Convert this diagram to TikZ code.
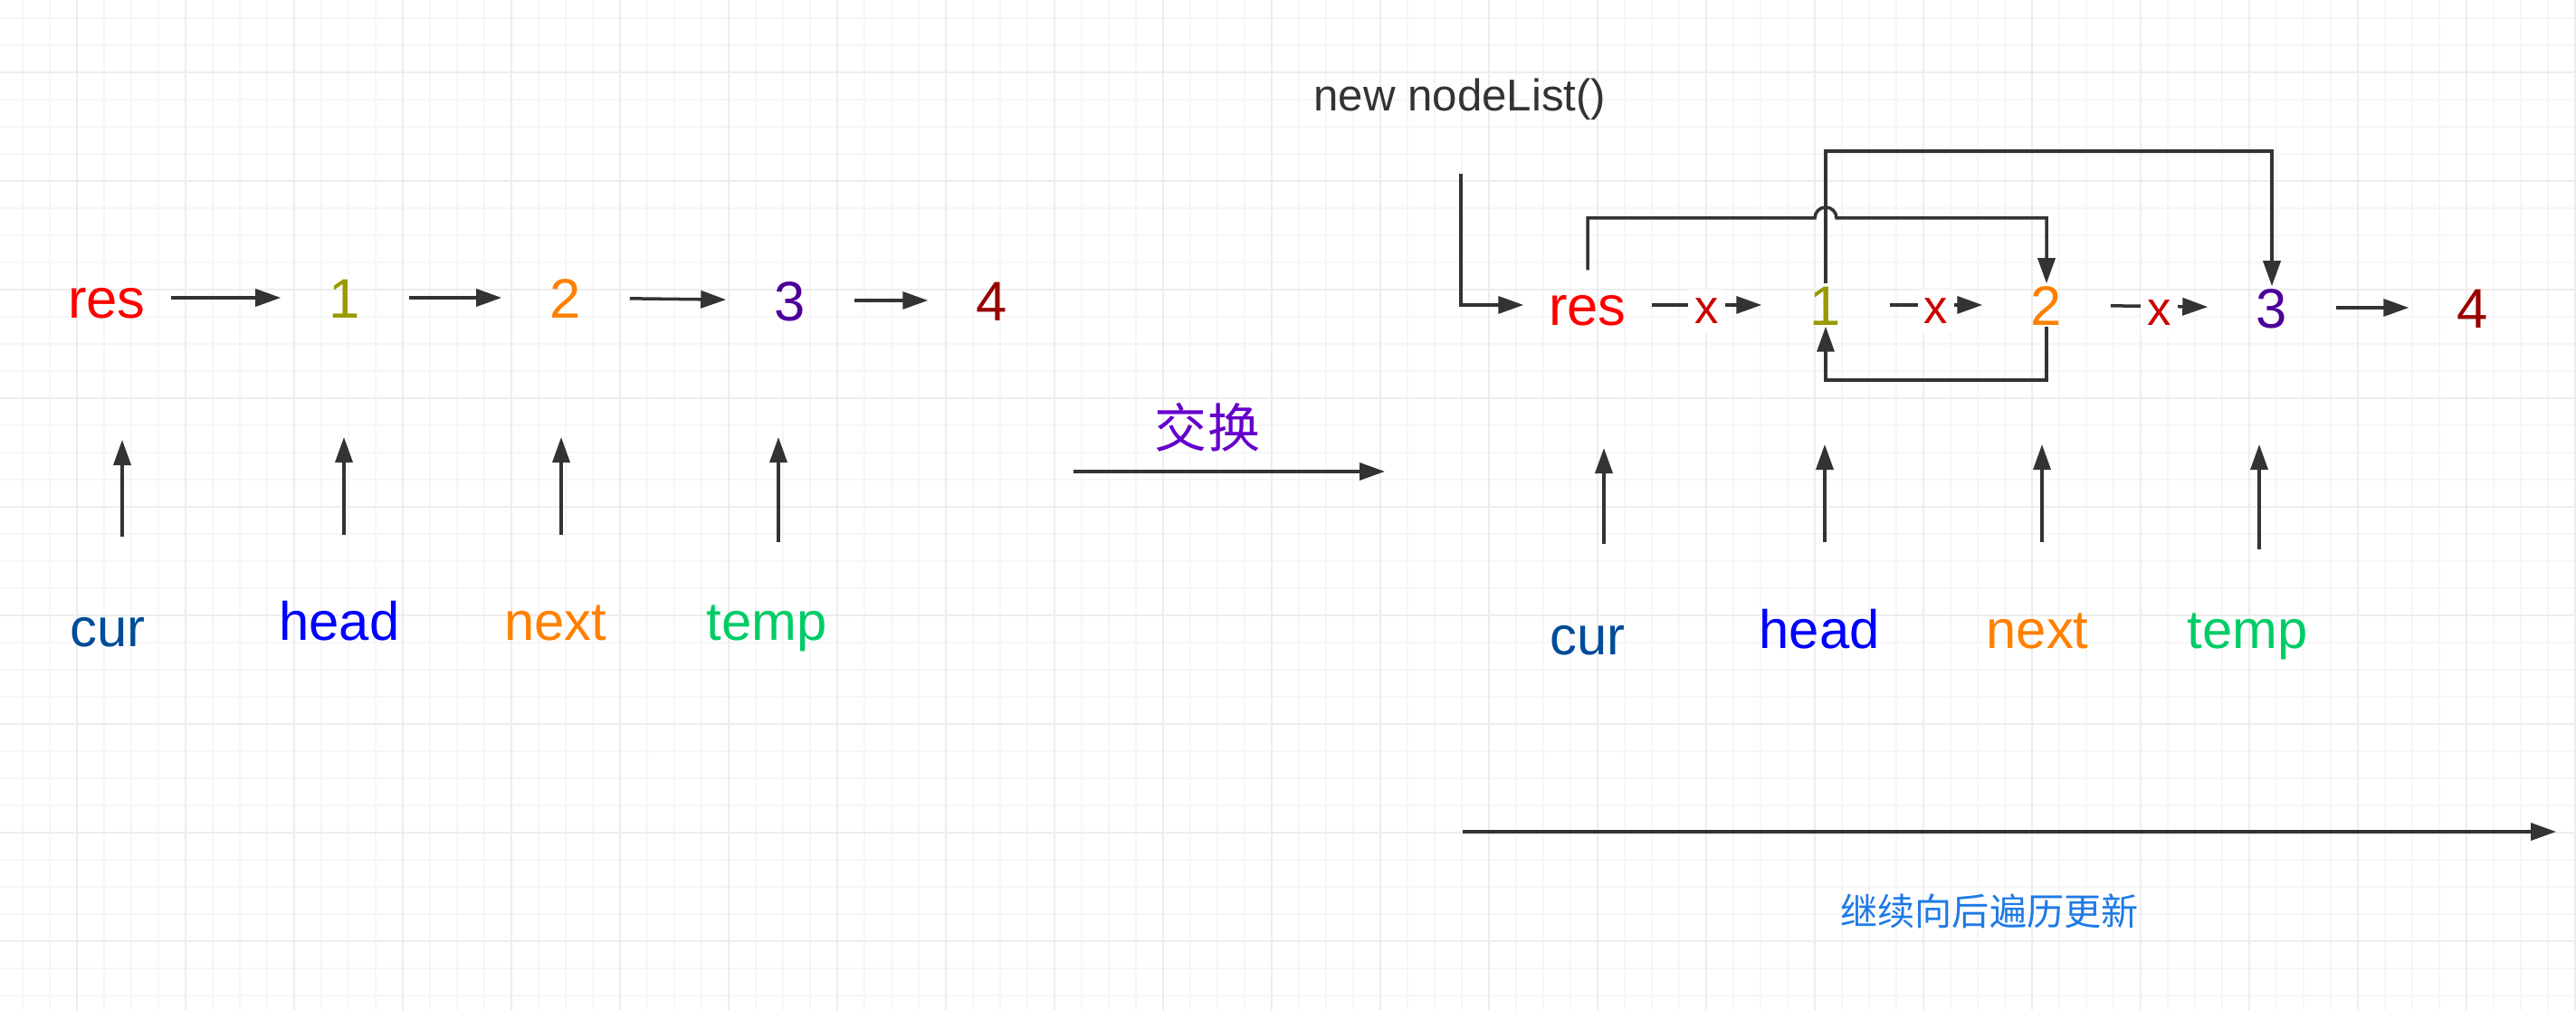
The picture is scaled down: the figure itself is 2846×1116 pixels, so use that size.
\documentclass[tikz,border=0pt]{standalone}
\usepackage{fontspec}
\setmainfont{Liberation Sans}
\newfontfamily\cjk{Noto Sans CJK SC}
\usetikzlibrary{arrows.meta, calc}
\definecolor{linecol}{HTML}{333333}
\definecolor{resred}{HTML}{FF0000}
\definecolor{oneolive}{HTML}{999900}
\definecolor{twoorange}{HTML}{FF8000}
\definecolor{threepurple}{HTML}{4C0099}
\definecolor{fourdark}{HTML}{990000}
\definecolor{curblue}{HTML}{004C99}
\definecolor{headblue}{HTML}{0000FF}
\definecolor{tempgreen}{HTML}{00CC66}
\definecolor{swappurple}{HTML}{6600CC}
\definecolor{travblue}{HTML}{1E7AE6}
\definecolor{xred}{HTML}{CC0000}
\tikzset{
  arr/.style={draw=linecol, line width=0.035cm, -{Triangle[length=0.28cm, width=0.19cm]}},
  item/.style={font=\fontsize{17.5}{21}\selectfont, inner sep=0pt, minimum width=1.4cm,
    text height=0.46cm, text depth=0pt, anchor=base},
  ptrname/.style={font=\fontsize{17}{20}\selectfont, inner sep=0pt, anchor=base},
  xmark/.style={fill=white, text=xred, font=\fontsize{15}{18}\selectfont,
    inner xsep=0.07cm, inner ysep=0.1cm, text depth=0pt, yshift=-0.07cm},
  gridminor/.style={draw=gray!7, line width=0.02cm},
  gridmajor/.style={draw=gray!14, line width=0.02cm}
}

\begin{document}
\begin{tikzpicture}[x=0.01cm, y=-0.01cm]
  \useasboundingbox (0,0) rectangle (2846,1116);
  \fill[white] (0,0) rectangle (2846,1116);
  \foreach \gx in {25,55,...,2845} \draw[gridminor] (\gx,0) -- (\gx,1116);
  \foreach \gy in {20,50,...,1100} \draw[gridminor] (0,\gy) -- (2846,\gy);
  \foreach \gx in {85,205,...,2845} \draw[gridmajor] (\gx,0) -- (\gx,1116);
  \foreach \gy in {80,200,...,1040} \draw[gridmajor] (0,\gy) -- (2846,\gy);
  %
  % before the swap
  \node[item, text=resred] (lres) at (118,352) {res};
  \node[item, text=oneolive] (l1) at (381,352) {1};
  \node[item, text=twoorange] (l2) at (625,352) {2};
  \node[item, text=threepurple] (l3) at (873,355) {3};
  \node[item, text=fourdark] (l4) at (1096,355) {4};
  \draw[arr] (lres) -- (l1);
  \draw[arr] (l1) -- (l2);
  \draw[arr] (l2) -- (l3);
  \draw[arr] (l3) -- (l4);
  \node[ptrname, text=curblue] (lcur) at (119,715) {cur};
  \node[ptrname, text=headblue] (lhead) at (375,707) {head};
  \node[ptrname, text=twoorange] (lnext) at (614,707) {next};
  \node[ptrname, text=tempgreen] (ltemp) at (847,707) {temp};
  \foreach \p/\x/\yb/\yt in {lpa/135/593/486, lpb/380/591/483, lpc/620/591/483, lpd/860/599/483} {
    \coordinate (\p-t) at (\x,\yb);
    \coordinate (\p-h) at (\x,\yt);
    \draw[arr] (\p-t) -- (\p-h);
  }
  %
  \node[font=\cjk\fontsize{16.5}{20}\selectfont, text=swappurple, inner sep=0pt] (swap) at (1334,472) {交换};
  \coordinate (swapfrom) at (1186,521);
  \coordinate (swapto) at (1530,521);
  \draw[arr] (swapfrom) -- (swapto);
  %
  % after the swap
  \node[font=\fontsize{14}{17}\selectfont, text=linecol, inner sep=0pt, anchor=base] (newlist) at (1613,123) {new nodeList()};
  \node[item, text=resred] (rres) at (1754,360) {res};
  \node[item, text=oneolive] (r1) at (2017,360) {1};
  \node[item, text=twoorange] (r2) at (2261,360) {2};
  \node[item, text=threepurple] (r3) at (2510,363) {3};
  \node[item, text=fourdark] (r4) at (2732,363) {4};
  \coordinate (newfrom) at (1614,192);
  \draw[arr] (newfrom) |- (rres);
  \draw[arr] (rres) -- node[xmark] {x} (r1);
  \draw[arr] (r1) -- node[xmark] {x} (r2);
  \draw[arr] (r2) -- node[xmark] {x} (r3);
  \draw[arr] (r3) -- (r4);
  \coordinate (hiA) at (0,241);
  \coordinate (hiB) at (0,167);
  \coordinate (loC) at (0,420);
  \draw[arr] ([yshift=0.15cm]rres.north) -- (rres.north |- hiA) -- ([xshift=-0.12cm]r1.north |- hiA)
    arc[start angle=180, end angle=360, radius=12] -- (r2.north |- hiA) -- (r2.north);
  \draw[arr] (r1.north) |- (r3.north |- hiB) -- (r3.north);
  \draw[arr] (r2.south) |- (r1.south |- loC) -- (r1.south);
  \node[ptrname, text=curblue] (rcur) at (1754,723) {cur};
  \node[ptrname, text=headblue] (rhead) at (2010,716) {head};
  \node[ptrname, text=twoorange] (rnext) at (2251,716) {next};
  \node[ptrname, text=tempgreen] (rtemp) at (2483,716) {temp};
  \foreach \p/\x/\yb/\yt in {rpa/1772/601/495, rpb/2016/599/491, rpc/2256/599/491, rpd/2496/607/491} {
    \coordinate (\p-t) at (\x,\yb);
    \coordinate (\p-h) at (\x,\yt);
    \draw[arr] (\p-t) -- (\p-h);
  }
  %
  \coordinate (travfrom) at (1616,919);
  \coordinate (travto) at (2824,919);
  \draw[arr] (travfrom) -- (travto);
  \node[font=\cjk\fontsize{11.7}{14}\selectfont, text=travblue, inner sep=0pt] (trav) at (2198,1007) {继续向后遍历更新};
\end{tikzpicture}
\end{document}
